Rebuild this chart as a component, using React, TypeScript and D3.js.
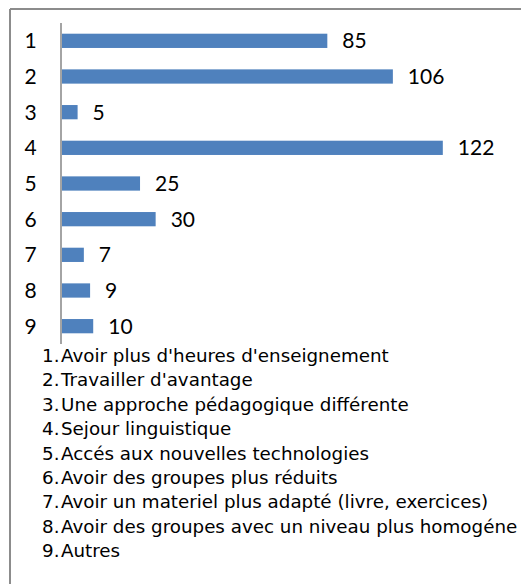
import React from "react";
import * as d3 from "d3";

const categories = ["1", "2", "3", "4", "5", "6", "7", "8", "9"];
const values = [85, 106, 5, 122, 25, 30, 7, 9, 10];
const legendNumbers = ["1.", "2.", "3.", "4.", "5.", "6.", "7.", "8.", "9."];
const legendLabels = [
  "Avoir plus d'heures d'enseignement",
  "Travailler d'avantage",
  "Une approche pédagogique différente",
  "Sejour linguistique",
  "Accés aux nouvelles  technologies",
  "Avoir des groupes plus réduits",
  "Avoir un materiel plus adapté (livre, exercices)",
  "Avoir des groupes avec un niveau plus homogéne",
  "Autres",
];

export default function App() {
  const W = 521;
  const H = 584;
  const x = d3.scaleLinear().domain([0, 140]).range([62, 62 + 437]);
  const y = d3
    .scaleBand<string>()
    .domain(categories)
    .range([23, 344])
    .paddingInner(0.6)
    .paddingOuter(0.3);
  const font = "Lato, 'Open Sans', sans-serif";
  const legendFont = "'DejaVu Sans', sans-serif";
  return (
    <svg
      width={W}
      height={H}
      style={{ position: "absolute", left: 0, top: 0, background: "#fff" }}
    >
      <rect x={0} y={0} width={W} height={H} fill="#fff" />
      <line x1={10} y1={9} x2={W} y2={9} stroke="#8c8c8c" strokeWidth={2} />
      <line x1={10} y1={9} x2={10} y2={H} stroke="#8c8c8c" strokeWidth={2} />
      {categories.map((c, i) => (
        <g key={c}>
          <rect
            x={x(0)}
            y={y(c)!}
            width={x(values[i]) - x(0)}
            height={y.bandwidth()}
            fill="#4F81BD"
          />
          <text
            x={x(values[i]) + 15}
            y={y(c)! + y.bandwidth() / 2}
            dy="0.36em"
            fontFamily={font}
            fontSize={21}
            fill="#000"
          >
            {values[i]}
          </text>
          <text
            x={30.5}
            y={y(c)! + y.bandwidth() / 2}
            dy="0.36em"
            textAnchor="middle"
            fontFamily={font}
            fontSize={21}
            fill="#000"
          >
            {c}
          </text>
        </g>
      ))}
      <line x1={61} y1={23} x2={61} y2={344} stroke="#868686" strokeWidth={1.5} />
      {legendLabels.map((l, i) => (
        <g key={i}>
          <text
            x={42}
            y={355.5 + i * 24.4}
            dy="0.36em"
            fontFamily={legendFont}
            fontSize={18.3}
            fill="#000"
          >
            {legendNumbers[i]}
          </text>
          <text
            x={61}
            y={355.5 + i * 24.4}
            dy="0.36em"
            fontFamily={legendFont}
            fontSize={18.3}
            fill="#000"
          >
            {l}
          </text>
        </g>
      ))}
    </svg>
  );
}
